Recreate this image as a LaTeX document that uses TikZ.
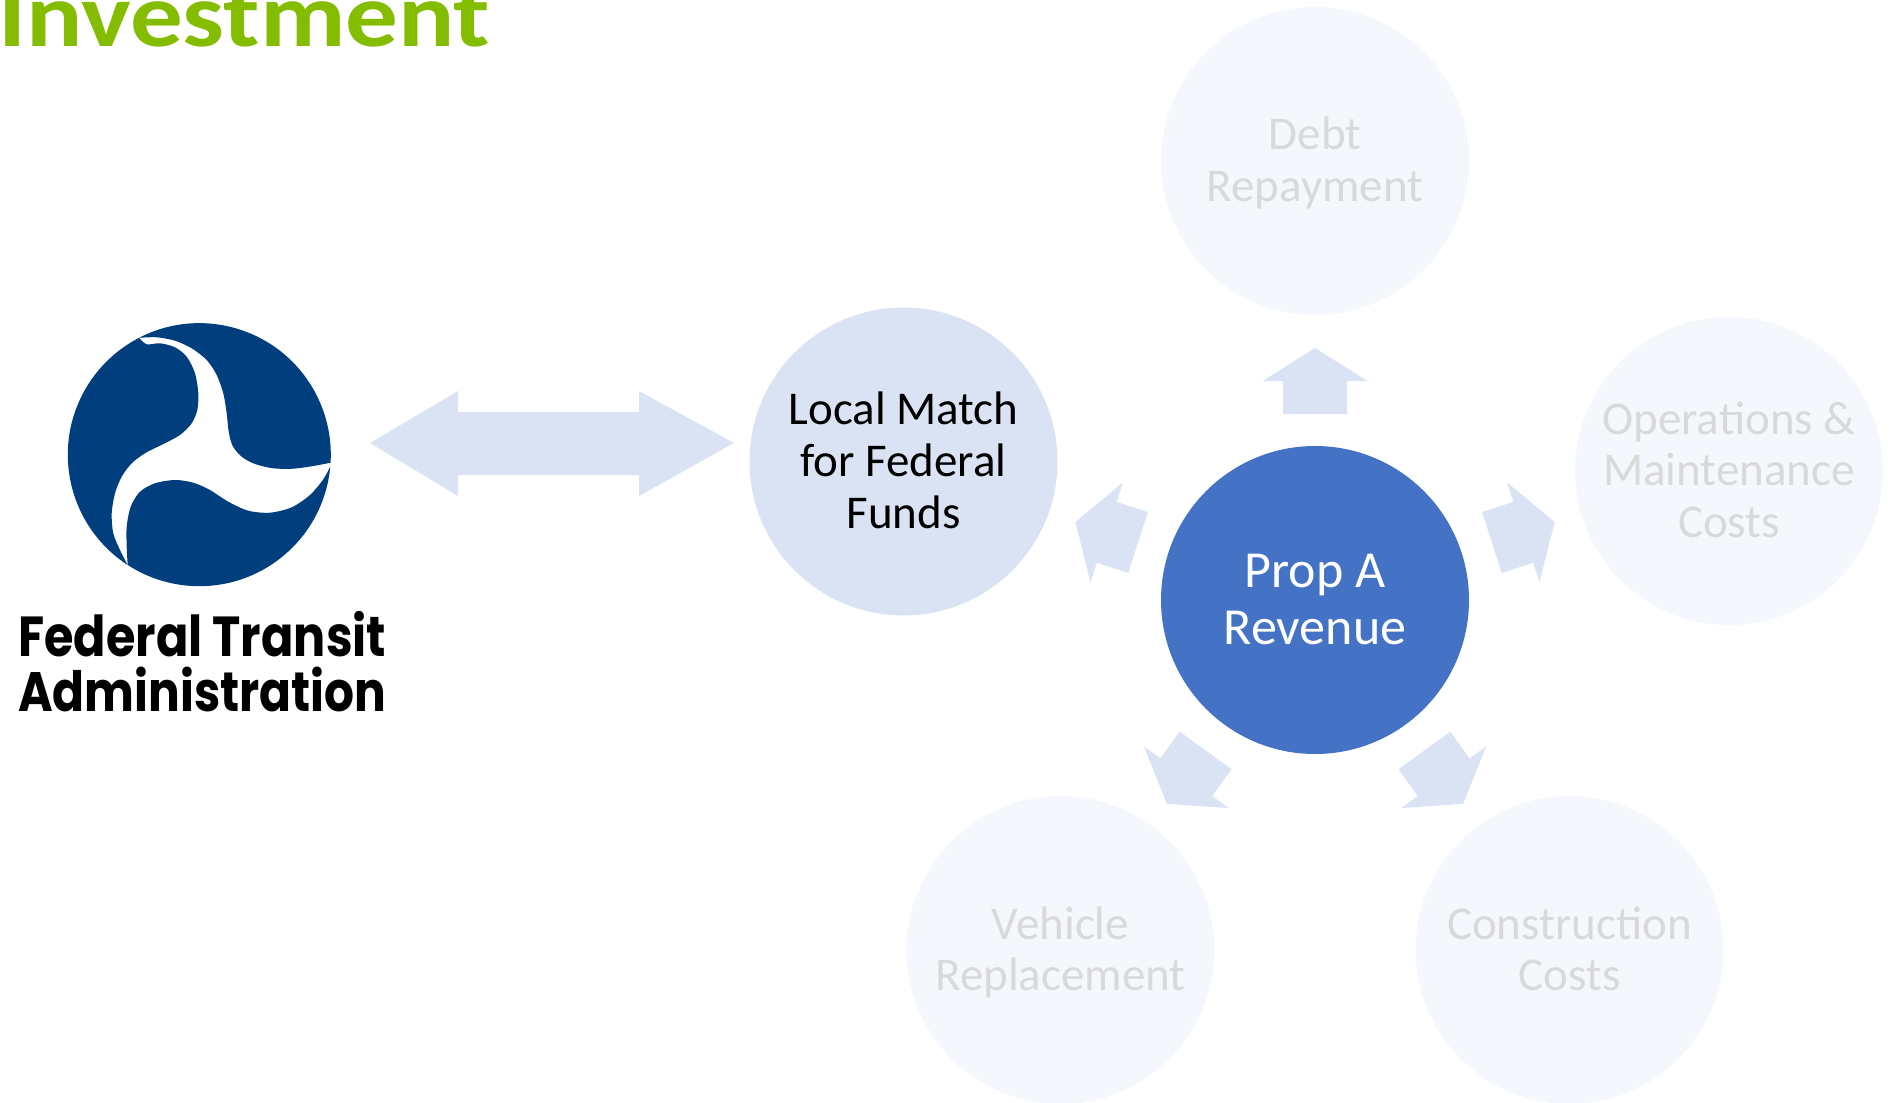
\documentclass[tikz,border=0pt]{standalone}
\usepackage{fontspec}
\setmainfont{Carlito}
\newfontfamily\ftafont{Poppins}
\usepackage{graphicx}
\definecolor{ftablue}{HTML}{003E7E}
\definecolor{propblue}{HTML}{4472C4}
\definecolor{lightblue}{HTML}{DAE3F3}
\definecolor{fadefill}{HTML}{F4F7FC}
\definecolor{fadetext}{HTML}{D9D9D9}
\definecolor{titlegreen}{HTML}{84BD00}
% first-line strut, a little taller so the text block sits slightly lower
\newcommand\upstrut{\rule{0pt}{\dimexpr0.7\baselineskip+9pt\relax}}
\begin{document}
\begin{tikzpicture}[x=1pt,y=-1pt,
  bubble/.style={circle, minimum size=308pt, inner sep=0pt, align=center,
    font=\fontsize{47}{51.7}\selectfont},
  faded/.style={bubble, fill=fadefill, text=fadetext},
  blockarrow/.style={fill=lightblue},
  blob/.style={fill=ftablue},
  ftatext/.style={anchor=base west, inner sep=0pt, text=black,
    font=\ftafont\bfseries\fontsize{40}{44}\selectfont}]
\useasboundingbox (0,0) rectangle (1893,1103);

% title (cut at top)
\node[anchor=base west, inner sep=0pt, text=titlegreen,
  font=\bfseries\fontsize{91}{93}\selectfont] (title) at (-2,46)
  {\scalebox{1.155}[1]{Investment\raisebox{12.5pt}{”}}};

% FTA logo
\coordinate (logoc) at (199.3,454.7);
\begin{scope}[shift={(logoc)}]
  % left blob
  \fill[blob] plot[smooth, tension=0.5] coordinates {
    (-60.3,-116.9) (-52.6,-110.4) (-39.3,-111.4) (-24.3,-107.4) (-12.6,-98)
    (-4.3,-81.4) (-1,-61.4) (-2,-44.7) (-7.6,-31.4) (-19.3,-19.7) (-36,-10.7)
    (-54.3,-1.4) (-67.6,8.6) (-77.6,22) (-84.3,38.6) (-87.6,58.6) (-86,78.6)
    (-79.3,95.3) (-71.6,110.3)}
    arc[start angle=123, end angle=242.7, radius=131.5] -- cycle;
  % top-right blob
  \fill[blob] plot[smooth, tension=0.5] coordinates {
    (131.25,8.0) (114,11.3) (94,14) (74,13.6) (55.7,9.3) (42.4,2) (33.4,-8.7)
    (29.4,-23) (27.4,-41.4) (24,-61.4) (17.4,-79.7) (7.4,-94.7) (-7.6,-106.4)
    (-24.3,-114) (-42.6,-117.4) (-60.3,-116.9)}
    arc[start angle=-117.3, end angle=3.5, radius=131.5] -- cycle;
  % bottom blob
  \fill[blob] plot[smooth, tension=0.5] coordinates {
    (-71.6,110.3) (-72.6,92) (-72.6,72) (-68.6,52) (-59.3,37) (-44.3,28.6)
    (-24.3,25.3) (-6,28) (10.7,35.3) (29,47) (49,56) (70.7,58) (92.4,52.6)
    (110.7,40.3) (124,24.6) (130.96,11.9)}
    arc[start angle=5.2, end angle=123, radius=131.5] -- cycle;
\end{scope}
\node[ftatext] (fta1) at (18,656) {\resizebox{368pt}{!}{\scalebox{1}[1.18]{Federal Transit}}};
\node[ftatext] (fta2) at (18,711) {\resizebox{368pt}{!}{\scalebox{1}[1.18]{Administration}}};

% double arrow
\fill[blockarrow] (370,443) -- (458,391) -- (458,412) -- (639,412) -- (639,391)
  -- (734,443) -- (639,496) -- (639,475) -- (458,475) -- (458,496) -- cycle;

% bubbles
\node[bubble, fill=propblue, text=white, font=\fontsize{52}{57}\selectfont]
  (prop) at (1315,600) {\upstrut Prop A\\\strut Revenue};
\node[bubble, fill=lightblue, text=black] (local) at (903.5,461.5)
  {\upstrut Local Match\\\strut for Federal\\\strut Funds};
\node[faded] (debt) at (1315,161) {\upstrut Debt\\\strut Repayment};
\node[faded] (ops) at (1729,471) {\upstrut Operations \&\\\strut Maintenance\\\strut Costs};
\node[faded] (constr) at (1569.5,950) {\upstrut Construction\\\strut Costs};
\node[faded] (veh) at (1060.5,950) {\upstrut Vehicle\\\strut Replacement};

% arrows from centre
\begin{scope}[shift={(prop.center)}]
  \foreach \a in {90,162,18,-54,-126}{
    \fill[blockarrow, rotate=\a] (186,32) -- (219,32) -- (219,52.5) -- (252,0)
      -- (219,-52.5) -- (219,-32) -- (186,-32) -- cycle;
  }
\end{scope}
\end{tikzpicture}
\end{document}
